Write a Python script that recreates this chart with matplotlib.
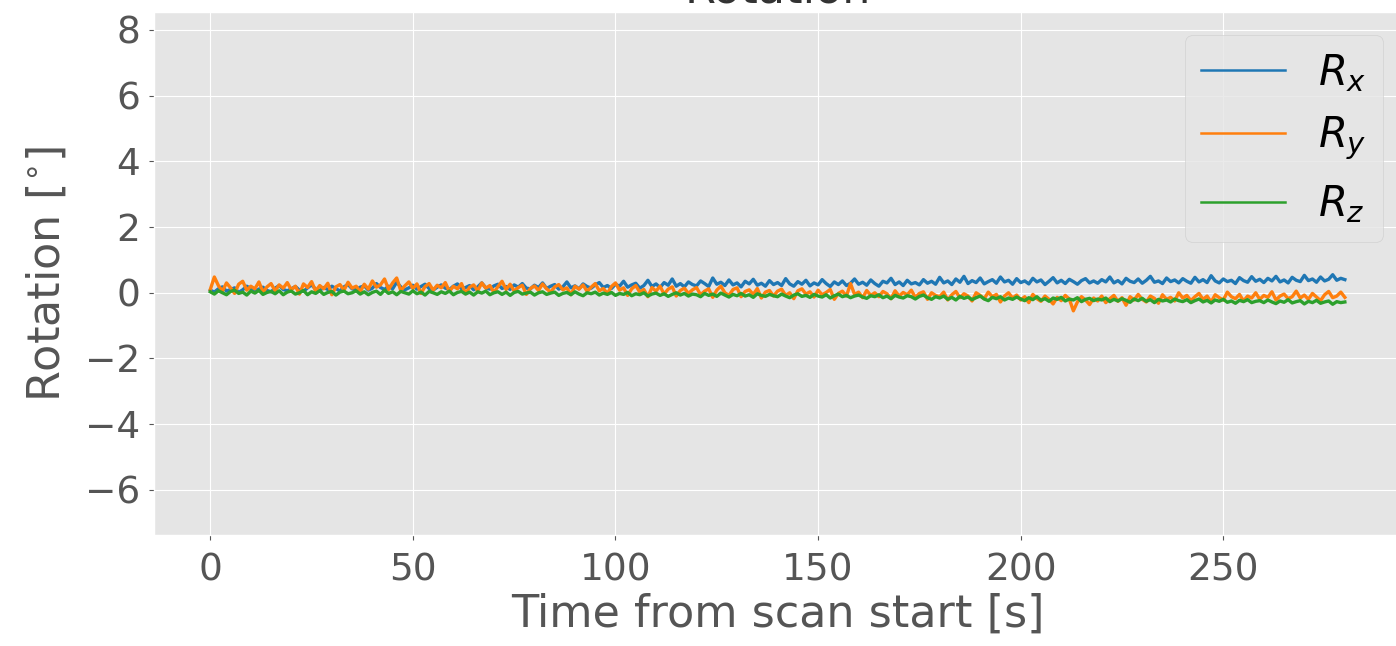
import numpy as np
import matplotlib
matplotlib.use("Agg")
import matplotlib.pyplot as plt

# rotation traces in degrees, one reading per second from t = 0 s
rx = [0.08, 0.02, 0.12, 0.18, 0.05, 0.1, 0.15, 0.01, 0.09, 0.2, 0.13, 0.04, 0.11, 0.17, 0.07, 0.03, 0.14, 0.22, 0.1, 0.06,
      0.12, 0.19, 0.08, 0.04, 0.15, 0.24, 0.11, 0.07, 0.16, 0.1, 0.2, 0.13, 0.05, 0.18, 0.25, 0.12, 0.09, 0.17, 0.21, 0.08,
      0.14, 0.28, 0.16, 0.1, 0.2, 0.12, 0.32, 0.18, 0.09, 0.15, 0.23, 0.11, 0.19, 0.26, 0.13, 0.08, 0.17, 0.24, 0.14, 0.1,
      0.2, 0.27, 0.12, 0.16, 0.22, 0.09, 0.18, 0.3, 0.15, 0.11, 0.21, 0.26, 0.13, 0.19, 0.1, 0.24, 0.17, 0.28, 0.14, 0.12,
      0.23, 0.16, 0.3, 0.13, 0.2, 0.25, 0.11, 0.18, 0.33, 0.15, 0.21, 0.12, 0.27, 0.19, 0.14, 0.24, 0.31, 0.16, 0.22, 0.13,
      0.26, 0.2, 0.35, 0.17, 0.24, 0.29, 0.14, 0.22, 0.38, 0.19, 0.27, 0.16, 0.31, 0.23, 0.42, 0.2, 0.28, 0.18, 0.33, 0.25,
      0.21, 0.36, 0.28, 0.19, 0.45, 0.26, 0.32, 0.22, 0.39, 0.24, 0.3, 0.18, 0.35, 0.27, 0.41, 0.23, 0.29, 0.2, 0.37, 0.25,
      0.31, 0.22, 0.43, 0.27, 0.2, 0.34, 0.26, 0.38, 0.21, 0.3, 0.24, 0.4, 0.28, 0.19, 0.33, 0.25, 0.36, 0.22, 0.29, 0.42,
      0.26, 0.32, 0.23, 0.39, 0.28, 0.2, 0.35, 0.3, 0.44, 0.25, 0.33, 0.22, 0.38, 0.27, 0.31, 0.24, 0.4, 0.29, 0.35, 0.26,
      0.47, 0.3, 0.36, 0.25, 0.42, 0.32, 0.5, 0.28, 0.37, 0.31, 0.45, 0.27, 0.34, 0.4, 0.29, 0.48, 0.33, 0.38, 0.26, 0.43,
      0.31, 0.36, 0.27, 0.44, 0.33, 0.39, 0.25, 0.35, 0.46, 0.3, 0.38, 0.28, 0.41, 0.34, 0.26, 0.37, 0.43, 0.3, 0.36, 0.29,
      0.4, 0.33, 0.48, 0.3, 0.37, 0.27, 0.44, 0.35, 0.31, 0.42, 0.29, 0.38, 0.5, 0.32, 0.36, 0.28, 0.45, 0.34, 0.39, 0.3,
      0.43, 0.35, 0.29, 0.47, 0.33, 0.4, 0.31, 0.52, 0.36, 0.3, 0.42, 0.34, 0.38, 0.28, 0.46, 0.37, 0.32, 0.49, 0.35, 0.41,
      0.31, 0.44, 0.36, 0.5, 0.33, 0.39, 0.3, 0.47, 0.38, 0.34, 0.53, 0.37, 0.42, 0.32, 0.48, 0.36, 0.41, 0.55, 0.38, 0.44,
      0.4]

ry = [0.1, 0.48, 0.22, 0.05, 0.3, 0.15, -0.02, 0.26, 0.35, 0.08, 0.2, 0.12, 0.33, 0.02, 0.18, 0.28, 0.06, 0.24, 0.14, 0.31,
      0.09, 0.2, -0.04, 0.27, 0.16, 0.34, 0.05, 0.22, 0.12, 0.29, -0.06, 0.18, 0.25, 0.08, 0.32, 0.14, 0.2, 0.03, 0.26, 0.11,
      0.36, 0.17, 0.24, 0.42, 0.1, 0.3, 0.45, 0.07, 0.21, 0.33, 0.13, 0.27, -0.02, 0.19, 0.28, 0.08, 0.23, 0.15, 0.31, 0.04,
      0.2, 0.12, 0.28, -0.03, 0.17, 0.24, 0.06, 0.3, 0.14, 0.22, 0.01, 0.19, 0.35, 0.1, 0.26, 0.05, 0.16, 0.23, -0.05, 0.13,
      0.21, 0.07, 0.27, 0.12, 0.02, 0.18, 0.25, 0.09, 0.15, -0.06, 0.2, 0.11, 0.24, 0.04, 0.17, 0.28, 0.06, 0.13, -0.02, 0.19,
      0.3, 0.08, 0.15, -0.08, 0.12, 0.22, 0.02, 0.1, -0.12, 0.16, 0.05, 0.2, -0.04, 0.11, 0.18, -0.1, 0.07, 0.14, -0.02, 0.09,
      0.16, -0.06, 0.05, 0.12, -0.14, 0.08, 0.2, 0.0, -0.08, 0.1, 0.15, -0.12, 0.04, 0.09, -0.05, 0.13, -0.16, 0.02, 0.07, -0.1,
      0.05, 0.11, -0.08, 0.0, -0.18, 0.06, 0.12, -0.04, 0.03, -0.13, 0.08, -0.06, 0.01, 0.1, -0.2, -0.02, 0.05, -0.1, 0.28, -0.05,
      0.02, -0.15, 0.07, -0.08, 0.0, -0.12, 0.04, -0.03, -0.18, 0.06, -0.1, 0.01, -0.06, 0.08, -0.14, -0.02, 0.03, -0.2, 0.0, -0.08,
      -0.12, 0.02, -0.22, -0.06, 0.04, -0.15, -0.03, -0.1, -0.25, 0.0, -0.08, -0.18, 0.02, -0.12, -0.05, -0.28, -0.1, 0.0, -0.16, -0.07,
      -0.22, -0.12, -0.3, -0.05, -0.18, -0.26, -0.1, -0.2, -0.34, -0.14, -0.24, -0.08, -0.19, -0.55, -0.28, -0.12, -0.22, -0.36, -0.16, -0.25,
      -0.1, -0.3, -0.18, -0.08, -0.26, -0.15, -0.38, -0.12, -0.22, -0.05, -0.2, -0.28, -0.1, -0.17, -0.32, -0.06, -0.2, -0.14, -0.25, 0.0,
      -0.16, -0.08, -0.24, -0.12, -0.02, -0.2, -0.1, -0.28, -0.06, -0.15, -0.22, 0.02, -0.12, -0.18, -0.05, -0.25, -0.1, -0.16, 0.0, -0.2,
      -0.08, -0.14, 0.03, -0.22, -0.1, -0.04, -0.18, -0.12, 0.05, -0.16, -0.07, -0.2, -0.02, -0.13, -0.24, -0.06, 0.04, -0.15, -0.1, 0.02,
      -0.14]

rz = [0.03, -0.04, 0.06, 0.0, -0.06, 0.04, 0.08, -0.02, 0.02, -0.07, 0.05, -0.01, 0.07, -0.05, 0.01, 0.04, -0.03, 0.06, -0.06, 0.02,
      0.05, -0.04, 0.0, 0.07, -0.06, 0.03, -0.02, 0.06, -0.05, 0.01, 0.04, -0.07, 0.02, 0.05, -0.03, 0.0, 0.06, -0.04, 0.03, -0.06,
      0.01, 0.05, -0.05, 0.08, -0.02, 0.03, -0.06, 0.04, 0.0, -0.04, 0.06, -0.03, 0.02, -0.07, 0.04, 0.0, -0.05, 0.03, -0.02, 0.05,
      -0.06, 0.01, 0.04, -0.04, 0.02, -0.07, 0.03, -0.01, 0.05, -0.06, 0.0, 0.03, -0.05, 0.02, -0.08, 0.01, 0.04, -0.04, -0.01, 0.02,
      -0.07, 0.0, 0.03, -0.05, -0.01, 0.02, -0.08, -0.02, 0.01, -0.06, 0.03, -0.04, -0.09, 0.0, -0.03, 0.02, -0.07, -0.01, -0.05, 0.01,
      -0.08, -0.02, -0.05, 0.01, -0.09, -0.03, -0.06, 0.0, -0.1, -0.04, -0.01, -0.08, -0.03, -0.11, -0.05, 0.0, -0.07, -0.02, -0.1, -0.04,
      -0.06, -0.12, -0.02, -0.08, -0.04, -0.11, -0.01, -0.07, -0.13, -0.05, -0.09, -0.02, -0.1, -0.06, -0.14, -0.03, -0.08, -0.11, -0.05, -0.09,
      -0.12, -0.04, -0.1, -0.15, -0.07, -0.03, -0.11, -0.08, -0.14, -0.05, -0.1, -0.13, -0.06, -0.16, -0.09, -0.04, -0.12, -0.08, -0.15, -0.1,
      -0.07, -0.13, -0.17, -0.09, -0.12, -0.06, -0.15, -0.1, -0.18, -0.08, -0.13, -0.16, -0.09, -0.12, -0.19, -0.11, -0.07, -0.15, -0.2, -0.12,
      -0.16, -0.1, -0.2, -0.14, -0.22, -0.11, -0.17, -0.13, -0.21, -0.15, -0.1, -0.19, -0.24, -0.14, -0.18, -0.12, -0.22, -0.16, -0.2, -0.13,
      -0.19, -0.24, -0.15, -0.21, -0.12, -0.23, -0.18, -0.26, -0.16, -0.2, -0.14, -0.25, -0.19, -0.22, -0.15, -0.27, -0.2, -0.17, -0.24, -0.19,
      -0.22, -0.16, -0.27, -0.2, -0.25, -0.18, -0.23, -0.29, -0.19, -0.24, -0.17, -0.26, -0.21, -0.3, -0.2, -0.25, -0.22, -0.28, -0.19, -0.24,
      -0.27, -0.21, -0.3, -0.24, -0.19, -0.28, -0.23, -0.31, -0.22, -0.26, -0.2, -0.29, -0.25, -0.32, -0.23, -0.27, -0.21, -0.3, -0.26, -0.24,
      -0.3, -0.22, -0.28, -0.33, -0.25, -0.29, -0.21, -0.31, -0.27, -0.24, -0.34, -0.26, -0.3, -0.23, -0.32, -0.28, -0.25, -0.35, -0.27, -0.3,
      -0.28]

labels = ['$R_x$', '$R_y$', '$R_z$']
colors = ['#1f77b4', '#ff7f0e', '#2ca02c']
xticks = [0, 50, 100, 150, 200, 250]
yticks = [-6, -4, -2, 0, 2, 4, 6, 8]

plt.style.use('ggplot')

fig = plt.figure(figsize=(13.96, 6.46), dpi=100)
# axes runs past the right edge, the reference is cropped there
ax = fig.add_axes([0.110, 0.172, 0.894, 0.8096])

for y, lab, c in zip([rx, ry, rz], labels, colors):
    ax.plot(np.arange(len(y)), y, label=lab, color=c, lw=2.4)

ax.set_xlim(-14, 294)
ax.set_ylim(-7.37, 8.55)
ax.set_yticks(yticks)
ax.set_xticks(xticks)
ax.tick_params(labelsize=27, colors='#555555')
ax.tick_params(axis='x', pad=9)
ax.tick_params(axis='y', pad=6)
ax.set_xlabel('Time from scan start [s]', fontsize=32, color='#555555', labelpad=3)
ax.set_ylabel(r'Rotation [$^{\circ}$]', fontsize=32, color='#555555', labelpad=12)
# title sits mostly above the top edge, as in the reference
ax.set_title('Rotation', fontsize=32, pad=6, color='#333333')
leg = ax.legend(loc='upper right', fontsize=30, borderaxespad=0,
                bbox_to_anchor=(1383 / 1396, 1 - 35 / 646), bbox_transform=fig.transFigure)
for line in leg.get_lines():
    line.set_linewidth(1.8)

fig.savefig('out.png', dpi=100)
